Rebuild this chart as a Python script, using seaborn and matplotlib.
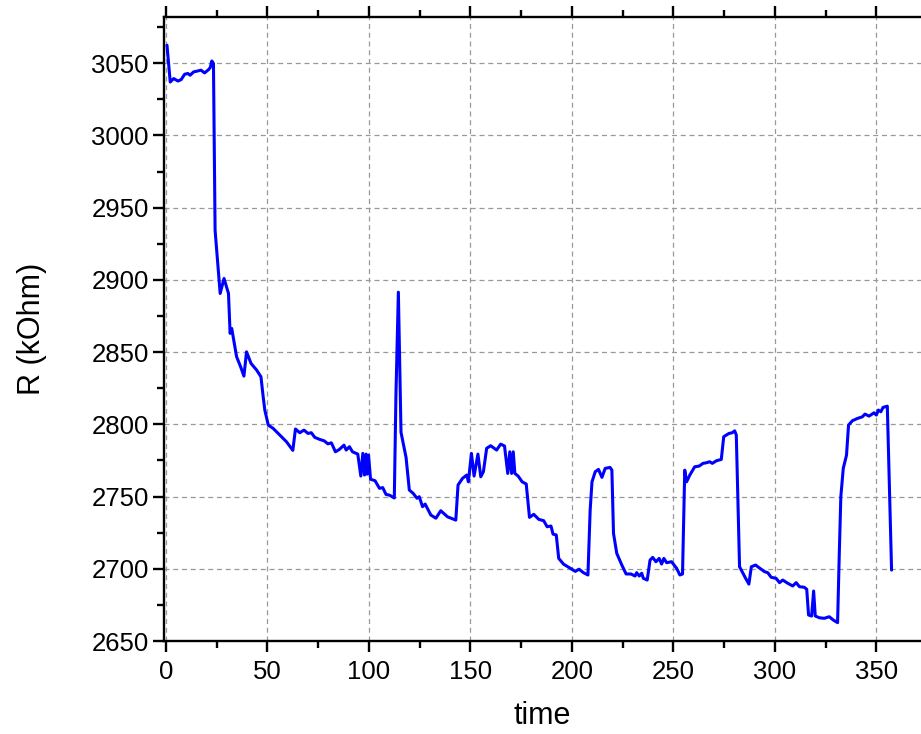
import matplotlib
matplotlib.use("Agg")
import matplotlib.pyplot as plt
import seaborn as sns
import pandas as pd
from matplotlib.ticker import MultipleLocator

time = [0.5, 2.1, 3.8, 5.9, 7.5, 9.2, 10.8, 11.9, 13.6, 15.7, 17.3, 19.0, 21.0, 21.8, 22.6, 23.4,
        23.7, 24.2, 25.5, 26.7, 28.6, 30.8, 31.6, 32.4, 34.8, 36.8, 38.4, 39.7, 41.9, 44.7, 46.8, 47.9,
        48.7, 50.4, 52.8, 56.1, 59.4, 62.5, 63.8, 65.9, 68.0, 70.0, 71.6, 73.3, 75.7, 77.9, 79.8, 81.5,
        83.5, 85.5, 87.7, 88.8, 90.4, 91.9, 94.5, 96.0, 97.0, 97.8, 98.6, 99.1, 99.8, 100.8, 103.0, 105.2,
        106.8, 108.4, 110.1, 112.5, 113.3, 114.5, 115.8, 118.3, 119.9, 121.8, 123.7, 124.8, 126.4, 127.7,
        130.5, 133.0, 135.4, 138.7, 142.8, 143.9, 146.1, 148.2, 149.0, 150.5, 151.8, 153.7, 155.1, 156.4,
        158.0, 160.0, 162.9, 164.9, 166.8, 168.4, 169.4, 170.3, 171.1, 171.9, 173.5, 175.5, 177.5, 179.1,
        181.2, 183.7, 186.1, 187.8, 189.7, 190.7, 192.3, 193.5, 195.9, 198.9, 201.7, 203.5, 205.7, 207.9,
        209.0, 209.9, 211.5, 213.1, 214.8, 216.4, 218.8, 219.7, 220.5, 222.1, 224.6, 226.7, 229.1, 231.1,
        231.9, 233.2, 234.4, 235.2, 237.1, 238.5, 239.8, 241.4, 243.0, 244.2, 245.3, 246.7, 249.1, 251.6,
        253.2, 254.5, 255.6, 256.5, 258.1, 260.5, 262.7, 264.6, 266.3, 267.9, 269.2, 271.2, 273.6, 274.8,
        276.1, 277.4, 279.0, 280.2, 281.0, 282.6, 284.3, 285.6, 287.2, 288.4, 290.5, 291.6, 294.9, 296.5,
        298.2, 300.6, 302.3, 303.9, 306.3, 308.8, 310.5, 312.1, 314.5, 315.7, 316.6, 318.1, 319.1, 319.9,
        321.9, 324.3, 326.8, 328.8, 330.9, 331.7, 332.5, 333.7, 335.3, 336.3, 338.2, 340.7, 343.1, 344.4,
        346.4, 348.9, 350.0, 351.0, 352.2, 353.3, 355.4, 357.5]

resistance = [3062.5, 3037.0, 3039.4, 3037.7, 3038.7, 3042.4, 3042.9, 3041.7, 3044.0, 3044.7, 3045.2, 3043.3,
              3045.6, 3047.0, 3051.6, 3049.8,
              3003.6, 2934.4, 2911.4, 2890.6, 2901.0, 2890.6, 2863.0, 2866.4, 2846.8, 2839.8, 2833.4, 2850.2,
              2842.2, 2837.5, 2832.9, 2819.0,
              2809.9, 2799.5, 2797.2, 2792.6, 2787.9, 2782.0, 2796.8, 2794.2, 2796.0, 2793.7, 2794.2, 2791.0,
              2789.6, 2788.6, 2786.5, 2787.2,
              2781.0, 2782.7, 2785.6, 2782.2, 2784.5, 2781.0, 2779.4, 2764.2, 2779.9, 2764.9, 2779.4, 2765.5,
              2778.7, 2762.0, 2761.0, 2755.7,
              2756.2, 2751.5, 2751.0, 2749.0, 2820.0, 2891.5, 2794.5, 2777.0, 2754.5, 2752.2, 2748.8, 2749.9,
              2743.0, 2744.8,
              2737.2, 2735.0, 2740.2, 2736.0, 2733.7, 2758.0, 2762.6, 2764.9, 2760.2, 2779.9, 2764.2, 2779.4,
              2763.7, 2767.2,
              2783.4, 2785.2, 2782.2, 2786.3, 2785.0, 2766.0, 2781.0, 2766.0, 2781.0, 2766.0, 2764.2, 2760.2,
              2758.7, 2735.6,
              2737.7, 2734.2, 2733.3, 2729.1, 2729.6, 2724.0, 2723.4, 2707.2, 2703.2, 2700.6, 2698.2, 2699.7,
              2697.3, 2695.7,
              2740.7, 2760.2, 2767.2, 2768.8, 2763.3, 2769.5, 2770.2, 2768.3, 2724.5, 2710.7, 2702.6, 2696.4,
              2696.4, 2695.0,
              2697.3, 2695.0, 2696.9, 2693.4, 2692.2, 2706.0, 2707.9, 2704.9, 2707.2, 2703.3, 2707.2, 2704.2,
              2704.9, 2700.3,
              2695.7, 2696.4, 2768.3, 2760.2, 2764.9, 2770.6, 2771.1, 2773.0, 2773.4, 2774.1, 2773.0, 2774.8,
              2775.7, 2791.4,
              2792.6, 2793.7, 2794.2, 2795.5, 2792.6, 2701.4, 2696.9, 2693.4, 2689.4, 2701.4, 2702.6, 2701.4,
              2698.0, 2697.3,
              2694.1, 2693.4, 2690.4, 2692.2, 2690.0, 2688.1, 2690.4, 2687.6, 2687.2, 2685.8, 2668.0, 2667.3,
              2684.6, 2667.3,
              2666.1, 2665.7, 2666.8, 2664.5, 2662.7, 2708.3, 2749.9, 2769.5, 2778.7, 2799.5, 2802.5, 2804.1,
              2805.2, 2807.1,
              2805.7, 2808.0, 2806.4, 2809.9, 2808.7, 2811.7, 2812.6, 2699.1]

x_ticks = [0, 50, 100, 150, 200, 250, 300, 350]
y_ticks = [2650, 2700, 2750, 2800, 2850, 2900, 2950, 3000, 3050]

sns.set_style("ticks")
plt.rcParams['font.family'] = ['Liberation Sans', 'DejaVu Sans']

df = pd.DataFrame({"time": time, "R": resistance})

fig = plt.figure(figsize=(9.21, 7.34), dpi=100)
ax = fig.add_axes([0.178, 0.1267, 0.822, 0.8501])

sns.lineplot(data=df, x="time", y="R", ax=ax, color="#0000FF", linewidth=2.2,
             sort=False, estimator=None)

ax.set_xlim(-1, 372)
ax.set_ylim(2650, 3082)
ax.set_xticks(x_ticks)
ax.set_yticks(y_ticks)
ax.xaxis.set_minor_locator(MultipleLocator(25))
ax.yaxis.set_minor_locator(MultipleLocator(25))

ax.grid(True, which="major", linestyle=(0, (4, 3)), color="#999999", linewidth=0.9)
ax.set_axisbelow(True)

for s in ["left", "bottom", "top"]:
    ax.spines[s].set_linewidth(1.7)
    ax.spines[s].set_color("black")
ax.spines["right"].set_visible(False)

ax.tick_params(which="major", direction="out", length=8, width=1.7, labelsize=18.5,
               top=True, labeltop=False, colors="black")
ax.tick_params(which="minor", direction="out", length=5, width=1.7, top=True, colors="black")
ax.tick_params(axis="x", which="major", pad=6)
ax.tick_params(axis="y", which="major", pad=3)

ax.set_xlabel("time", fontsize=22, labelpad=12, color="black")
ax.set_ylabel("R (kOhm)", fontsize=22, labelpad=32, color="black")

fig.savefig("out.png", dpi=100)
